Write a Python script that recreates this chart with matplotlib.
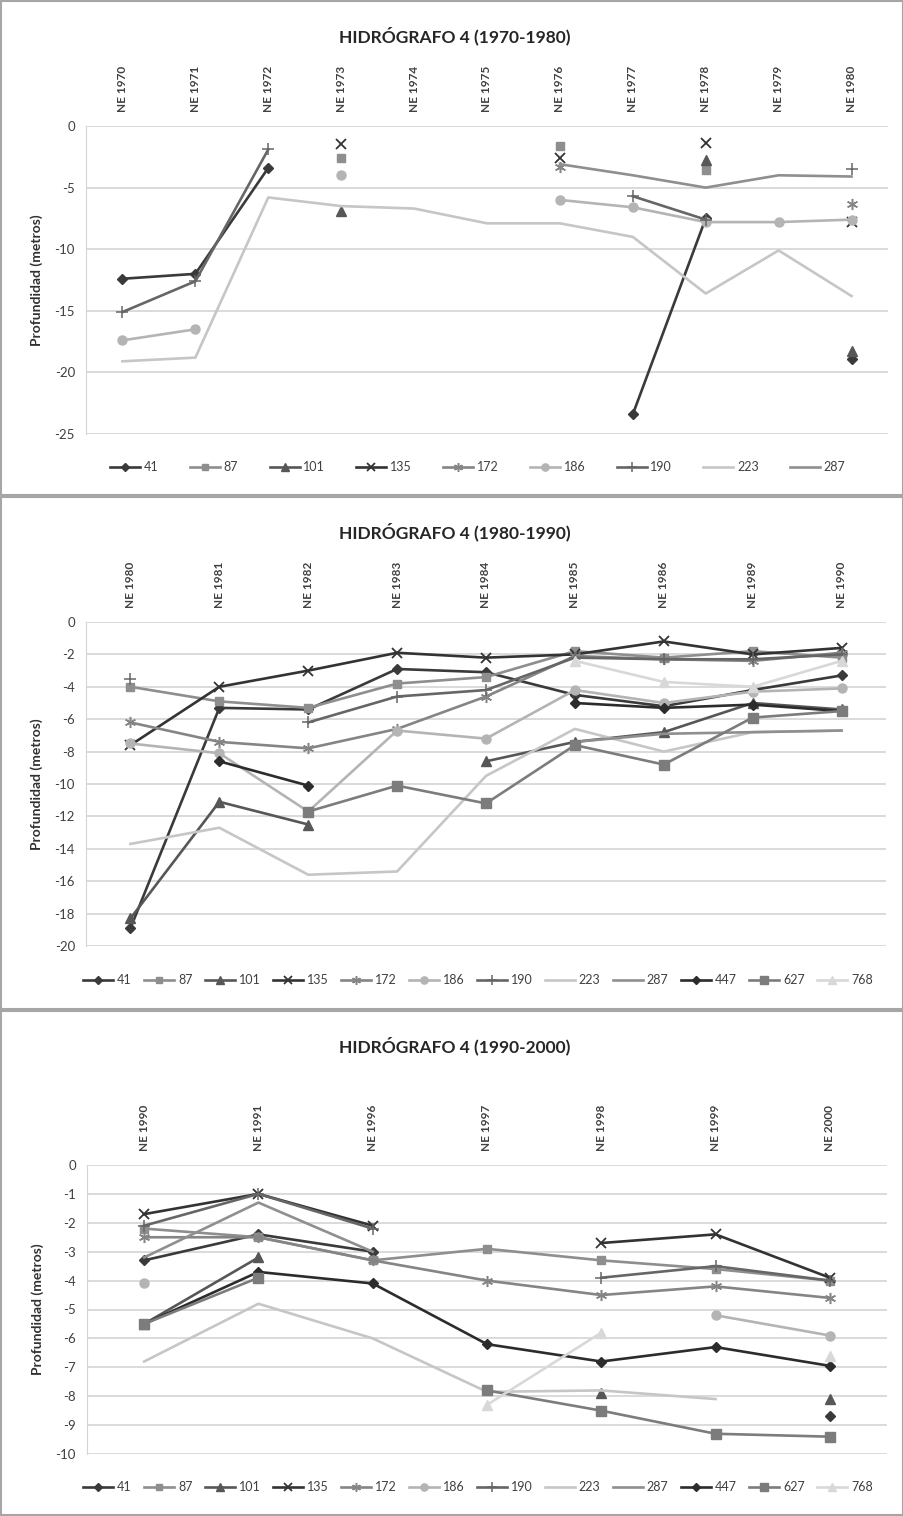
import numpy as np
import matplotlib
matplotlib.use('Agg')
import matplotlib.pyplot as plt
from matplotlib.patches import Rectangle

nan = np.nan
W, H = 904, 1516

# ---- 1970-1980 ----
cats_70 = ['NE 1970', 'NE 1971', 'NE 1972', 'NE 1973', 'NE 1974', 'NE 1975',
           'NE 1976', 'NE 1977', 'NE 1978', 'NE 1979', 'NE 1980']
p1_41 = [-12.4, -12.0, -3.4, nan, nan, nan, nan, -23.4, -7.5, nan, -18.9]
p1_87 = [nan, nan, nan, -2.6, nan, nan, -1.6, nan, -3.6, nan, nan]
p1_101 = [nan, nan, nan, -6.9, nan, nan, nan, nan, -2.8, nan, -18.3]
p1_135 = [nan, nan, nan, -1.5, nan, nan, -2.6, nan, -1.4, nan, -7.8]
p1_172 = [nan, nan, nan, nan, nan, nan, -3.3, nan, nan, nan, -6.3]
p1_186 = [-17.4, -16.5, nan, -4.0, nan, nan, -6.0, -6.6, -7.8, -7.8, -7.6]
p1_190 = [-15.1, -12.6, -1.9, nan, nan, nan, nan, -5.7, -7.6, nan, -3.5]
p1_223 = [-19.1, -18.8, -5.8, -6.5, -6.7, -7.9, -7.9, -9.0, -13.6, -10.1, -13.8]
p1_287 = [nan, nan, nan, nan, nan, nan, -3.1, -4.0, -5.0, -4.0, -4.1]

# ---- 1980-1990 ----
cats_80 = ['NE 1980', 'NE 1981', 'NE 1982', 'NE 1983', 'NE 1984', 'NE 1985',
           'NE 1986', 'NE 1989', 'NE 1990']
p2_41 = [-18.9, -5.3, -5.4, -2.9, -3.1, -4.5, -5.2, -4.2, -3.3]
p2_87 = [-4.0, -4.9, -5.3, -3.8, -3.4, -1.8, -2.2, -1.8, -2.2]
p2_101 = [-18.3, -11.1, -12.5, nan, -8.6, -7.4, -6.8, -5.0, -5.4]
p2_135 = [-7.6, -4.0, -3.0, -1.9, -2.2, -2.0, -1.2, -2.0, -1.6]
p2_172 = [-6.2, -7.4, -7.8, -6.6, -4.6, -2.1, -2.3, -2.4, -1.9]
p2_186 = [-7.5, -8.1, -11.7, -6.7, -7.2, -4.2, -5.0, -4.3, -4.1]
p2_190 = [-3.5, nan, -6.2, -4.6, -4.2, -2.2, -2.3, -2.3, -2.0]
p2_223 = [-13.7, -12.7, -15.6, -15.4, -9.5, -6.6, -8.0, -6.8, -6.7]
p2_287 = [nan, nan, nan, nan, nan, -7.4, -6.9, -6.8, -6.7]
p2_447 = [nan, -8.6, -10.1, nan, nan, -5.0, -5.3, -5.1, -5.5]
p2_627 = [nan, nan, -11.7, -10.1, -11.2, -7.6, -8.8, -5.9, -5.5]
p2_768 = [nan, nan, nan, nan, nan, -2.4, -3.7, -4.0, -2.4]

# ---- 1990-2000 ----
cats_90 = ['NE 1990', 'NE 1991', 'NE 1996', 'NE 1997', 'NE 1998', 'NE 1999', 'NE 2000']
p3_41 = [-3.3, -2.4, -3.0, nan, nan, nan, -8.7]
p3_87 = [-2.2, -2.5, -3.3, -2.9, -3.3, -3.6, -4.0]
p3_101 = [-5.5, -3.2, nan, nan, -7.9, nan, -8.1]
p3_135 = [-1.7, -1.0, -2.1, nan, -2.7, -2.4, -3.9]
p3_172 = [-2.5, -2.5, -3.3, -4.0, -4.5, -4.2, -4.6]
p3_186 = [-4.1, nan, nan, nan, nan, -5.2, -5.9]
p3_190 = [-2.1, -1.0, -2.2, nan, -3.9, -3.5, -4.0]
p3_223 = [-6.8, -4.8, -6.0, -7.85, -7.8, -8.1, nan]
p3_287 = [-3.2, -1.3, -3.0, nan, nan, nan, nan]
p3_447 = [-5.5, -3.7, -4.1, -6.2, -6.8, -6.3, -6.95]
p3_627 = [-5.5, -3.9, nan, -7.8, -8.5, -9.3, -9.4]
p3_768 = [nan, nan, nan, -8.3, -5.8, nan, -6.6]

STYLE = {
    '41': dict(color='#3a3a3a', marker='D', ms=5),
    '87': dict(color='#8e8e8e', marker='s', ms=6),
    '101': dict(color='#575757', marker='^', ms=6.5),
    '135': dict(color='#333333', marker='x', ms=7, mew=1.3),
    '172': dict(color='#858585', marker=(6, 2, 0), ms=8, mew=1.1),
    '186': dict(color='#b4b4b4', marker='o', ms=6.5),
    '190': dict(color='#666666', marker='+', ms=9, mew=1.1),
    '223': dict(color='#c6c6c6', marker='None', ms=0),
    '287': dict(color='#8f8f8f', marker='None', ms=0),
    '447': dict(color='#2c2c2c', marker='D', ms=5),
    '627': dict(color='#7c7c7c', marker='s', ms=6.5),
    '768': dict(color='#d8d8d8', marker='^', ms=6.5),
}

plt.rcParams['axes.unicode_minus'] = False
plt.rcParams['font.family'] = ['Lato', 'DejaVu Sans']

fig = plt.figure(figsize=(W / 100, H / 100), dpi=100)
fig.patch.set_facecolor('white')


def box(x0, y0, x1, y1):
    return [x0 / W, 1 - y1 / H, (x1 - x0) / W, (y1 - y0) / H]


def draw_panel(frame, rect, title, cats, series, ymin, ystep, legend_y, legend_w):
    fx0, fy0, fx1, fy1 = frame
    fig.patches.append(Rectangle((fx0 / W, 1 - fy1 / H), (fx1 - fx0) / W, (fy1 - fy0) / H,
                                 transform=fig.transFigure, fill=False,
                                 edgecolor='#a6a6a6', lw=1.5))
    fig.text(0.503, 1 - (fy0 + 35) / H, title, ha='center', va='center',
             fontsize=12.5, fontweight='bold', color='#262626')

    ax = fig.add_axes(box(*rect))
    x = np.arange(len(cats))
    handles = []
    for name, vals in series.items():
        st = STYLE[name]
        h, = ax.plot(x, vals, color=st['color'], lw=1.9, marker=st['marker'],
                     ms=st['ms'], mew=st.get('mew', 1), label=name, clip_on=False)
        handles.append(h)

    ax.set_xlim(-0.5, len(cats) - 0.5)
    ax.set_ylim(ymin, 0)
    ax.set_yticks(np.arange(ymin, 0.1, ystep))
    ax.set_yticklabels([f'{v:g}' for v in np.arange(ymin, 0.1, ystep)],
                       fontsize=9.5, color='#404040')
    ax.yaxis.grid(True, color='#d4d4d4', lw=1.2)
    ax.set_axisbelow(True)
    ax.xaxis.tick_top()
    ax.set_xticks(x)
    ax.set_xticklabels(cats, rotation=90, fontsize=8.5, fontweight='bold', color='#404040')
    ax.tick_params(axis='both', length=0)
    ax.tick_params(axis='x', pad=10)
    ax.tick_params(axis='y', pad=8)
    for side in ['top', 'right', 'bottom']:
        ax.spines[side].set_visible(False)
    ax.spines['left'].set_color('#d4d4d4')
    ax.set_ylabel('Profundidad (metros)', fontsize=10, fontweight='bold',
                  color='#303030', labelpad=8)

    # legend row sits under the plot, a little right of the panel centre
    leg = fig.legend(handles, list(series.keys()), loc='center', ncol=len(series),
                     bbox_to_anchor=(478 / W, 1 - legend_y / H),
                     frameon=False, fontsize=9, handlelength=2.4, handletextpad=0.3,
                     columnspacing=legend_w, numpoints=1, markerscale=0.8)
    for t in leg.get_texts():
        t.set_color('#404040')
    return ax


draw_panel((1, 1, 903, 495), (86, 126, 888, 434), 'HIDRÓGRAFO 4 (1970-1980)', cats_70,
           {'41': p1_41, '87': p1_87, '101': p1_101, '135': p1_135, '172': p1_172,
            '186': p1_186, '190': p1_190, '223': p1_223, '287': p1_287},
           -25, 5, 467, 2.5)

draw_panel((1, 497, 903, 1009), (86, 622, 886, 946), 'HIDRÓGRAFO 4 (1980-1990)', cats_80,
           {'41': p2_41, '87': p2_87, '101': p2_101, '135': p2_135, '172': p2_172,
            '186': p2_186, '190': p2_190, '223': p2_223, '287': p2_287,
            '447': p2_447, '627': p2_627, '768': p2_768},
           -20, 2, 980, 1.0)

draw_panel((1, 1011, 903, 1515), (87, 1165, 887, 1454), 'HIDRÓGRAFO 4 (1990-2000)', cats_90,
           {'41': p3_41, '87': p3_87, '101': p3_101, '135': p3_135, '172': p3_172,
            '186': p3_186, '190': p3_190, '223': p3_223, '287': p3_287,
            '447': p3_447, '627': p3_627, '768': p3_768},
           -10, 1, 1487, 1.0)

fig.savefig('out.png', dpi=100, facecolor='white')
